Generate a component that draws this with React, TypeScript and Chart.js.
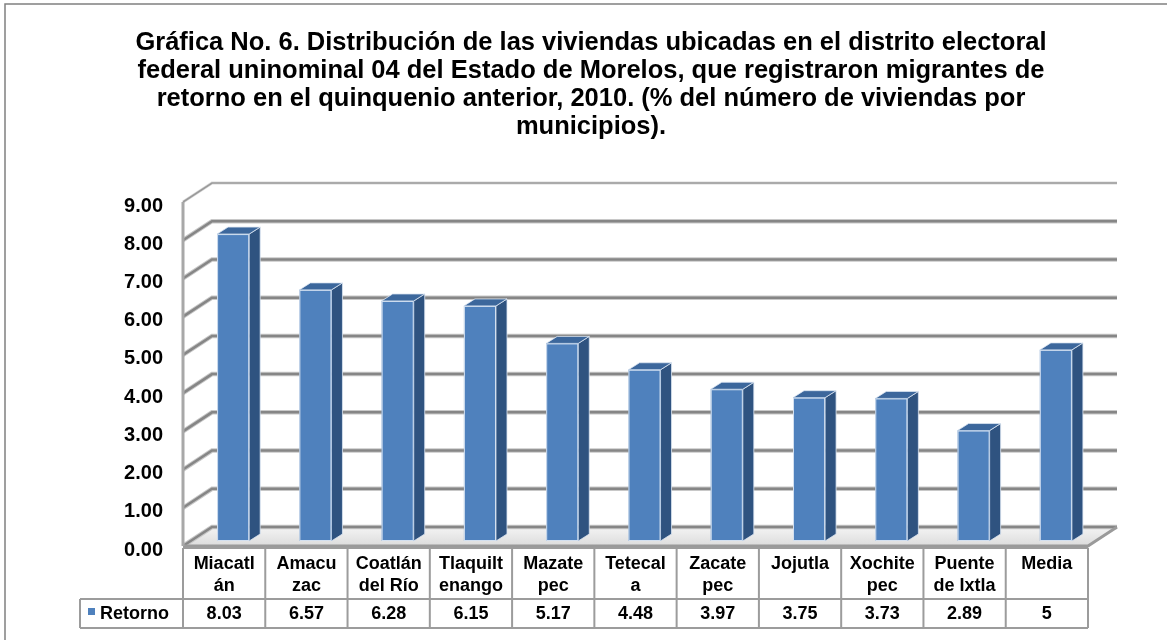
import React, { useEffect, useRef } from "react";
import { Chart, registerables } from "chart.js";

Chart.register(...registerables);

const W = 1167;
const H = 640;
const FONT = "'Liberation Sans', Arial, Helvetica, sans-serif";

const titleLines = [
  "Gráfica No. 6. Distribución de las viviendas ubicadas en el distrito electoral",
  "federal uninominal 04 del Estado de Morelos, que registraron migrantes de",
  "retorno en el quinquenio anterior, 2010. (% del número de viviendas por",
  "municipios).",
];

const categories = [
  "Miacatlán",
  "Amacuzac",
  "Coatlán del Río",
  "Tlaquiltenango",
  "Mazatepec",
  "Tetecala",
  "Zacatepec",
  "Jojutla",
  "Xochitepec",
  "Puente de Ixtla",
  "Media",
];

const headerLines = [
  ["Miacatl", "án"],
  ["Amacu", "zac"],
  ["Coatlán", "del Río"],
  ["Tlaquilt", "enango"],
  ["Mazate", "pec"],
  ["Tetecal", "a"],
  ["Zacate", "pec"],
  ["Jojutla"],
  ["Xochite", "pec"],
  ["Puente", "de Ixtla"],
  ["Media"],
];

const seriesName = "Retorno";
const retorno = [8.03, 6.57, 6.28, 6.15, 5.17, 4.48, 3.97, 3.75, 3.73, 2.89, 5];
const retornoLabels = ["8.03", "6.57", "6.28", "6.15", "5.17", "4.48", "3.97", "3.75", "3.73", "2.89", "5"];

const yTickValues = [0, 1, 2, 3, 4, 5, 6, 7, 8, 9];
const yTickLabels = ["0.00", "1.00", "2.00", "3.00", "4.00", "5.00", "6.00", "7.00", "8.00", "9.00"];

// 3D geometry
const WALL_DX = 29;
const WALL_DY = -19;
const BAR_OFF_X = 9;
const BAR_OFF_Y = -5;
const BAR_DX = 11;
const BAR_DY = -7;

const BLUE = "#4f81bd";
const BLUE_SIDE = "#2f5380";
const BLUE_TOP = "#3c679c";
const GRID = "#868686";

function poly(ctx: CanvasRenderingContext2D, pts: number[][]) {
  ctx.beginPath();
  ctx.moveTo(pts[0][0], pts[0][1]);
  for (let i = 1; i < pts.length; i++) ctx.lineTo(pts[i][0], pts[i][1]);
  ctx.closePath();
}

const backgroundPlugin = {
  id: "bg3d",
  beforeDatasetsDraw(chart: any) {
    const ctx: CanvasRenderingContext2D = chart.ctx;
    const { left, right } = chart.chartArea;
    const ys = chart.scales.y;
    ctx.save();

    // outer frame
    ctx.strokeStyle = "#808080";
    ctx.lineWidth = 1.5;
    ctx.strokeRect(5, 4, W + 20, H + 20);

    // title
    ctx.fillStyle = "#000";
    ctx.font = `bold 25.5px ${FONT}`;
    ctx.textAlign = "center";
    ctx.textBaseline = "alphabetic";
    titleLines.forEach((t, i) => ctx.fillText(t, 591, 50 + i * 28));

    const y0 = ys.getPixelForValue(0);
    const yTop = ys.getPixelForValue(9);

    // floor
    const floorPts = [
      [left, y0],
      [right, y0],
      [right + WALL_DX, y0 + WALL_DY],
      [left + WALL_DX, y0 + WALL_DY],
    ];
    const g = ctx.createLinearGradient(0, y0 + WALL_DY, 0, y0);
    g.addColorStop(0, "#f4f4f4");
    g.addColorStop(1, "#dcdcdc");
    poly(ctx, floorPts);
    ctx.fillStyle = g;
    ctx.fill();

    // gridlines (side wall diagonal + back wall horizontal)
    yTickValues.forEach((v) => {
      const yf = ys.getPixelForValue(v);
      const yb = yf + WALL_DY;
      const isTop = v === 9;
      const draw = (w: number, c: string) => {
        ctx.beginPath();
        ctx.moveTo(left, yf);
        ctx.lineTo(left + WALL_DX, yb);
        ctx.lineTo(right + WALL_DX, yb);
        ctx.strokeStyle = c;
        ctx.lineWidth = w;
        ctx.stroke();
      };
      if (isTop) {
        draw(3, "#d9d9d9");
        draw(1.5, "#9a9a9a");
      } else {
        draw(4.5, "#c8c8c8");
        draw(2.5, GRID);
      }
    });

    // floor outline (right & front edges)
    ctx.beginPath();
    ctx.moveTo(left, y0);
    ctx.lineTo(right, y0);
    ctx.lineTo(right + WALL_DX, y0 + WALL_DY);
    ctx.strokeStyle = "#9a9a9a";
    ctx.lineWidth = 3;
    ctx.stroke();

    // front vertical axis line
    ctx.beginPath();
    ctx.moveTo(left, yTop);
    ctx.lineTo(left, y0);
    ctx.strokeStyle = "#a8a8a8";
    ctx.lineWidth = 3;
    ctx.stroke();

    // y tick labels
    ctx.fillStyle = "#000";
    ctx.font = `bold 20px ${FONT}`;
    ctx.textAlign = "right";
    ctx.textBaseline = "middle";
    yTickValues.forEach((v, i) => {
      ctx.fillText(yTickLabels[i], 163, ys.getPixelForValue(v) + 4);
    });

    ctx.restore();
  },
  afterDatasetsDraw(chart: any) {
    const ctx: CanvasRenderingContext2D = chart.ctx;
    const { left, right } = chart.chartArea;
    const xs = chart.scales.x;
    const ys = chart.scales.y;
    const meta = chart.getDatasetMeta(0);
    ctx.save();

    // 3D bars
    meta.data.forEach((el: any) => {
      const p = el.getProps(["x", "y", "base", "width"], true);
      const x0 = p.x - p.width / 2 + BAR_OFF_X;
      const x1 = x0 + p.width;
      const yt = p.y + BAR_OFF_Y;
      const yb = p.base + BAR_OFF_Y;
      // side
      poly(ctx, [
        [x1, yt],
        [x1 + BAR_DX, yt + BAR_DY],
        [x1 + BAR_DX, yb + BAR_DY],
        [x1, yb],
      ]);
      ctx.fillStyle = BLUE_SIDE;
      ctx.fill();
      ctx.strokeStyle = "rgba(220,230,242,0.8)";
      ctx.lineWidth = 1;
      ctx.stroke();
      // top
      poly(ctx, [
        [x0, yt],
        [x0 + BAR_DX, yt + BAR_DY],
        [x1 + BAR_DX, yt + BAR_DY],
        [x1, yt],
      ]);
      ctx.fillStyle = BLUE_TOP;
      ctx.fill();
      ctx.stroke();
      // front
      ctx.fillStyle = BLUE;
      ctx.fillRect(x0, yt, p.width, yb - yt);
      ctx.strokeStyle = "rgba(225,234,245,0.9)";
      ctx.strokeRect(x0 + 0.5, yt + 0.5, p.width - 1, yb - yt - 1);
    });

    // data table
    const y0 = ys.getPixelForValue(0);
    const catW = (right - left) / categories.length;
    const tTop = y0 + 2;
    const tMid = tTop + 51;
    const tBot = tMid + 29;
    const legLeft = 80;
    ctx.strokeStyle = "#9c9c9c";
    ctx.lineWidth = 2;
    // horizontal lines
    ctx.beginPath();
    ctx.moveTo(left, tTop);
    ctx.lineTo(right, tTop);
    ctx.moveTo(legLeft, tMid);
    ctx.lineTo(right, tMid);
    ctx.moveTo(legLeft, tBot);
    ctx.lineTo(right, tBot);
    // vertical lines
    ctx.moveTo(legLeft, tMid);
    ctx.lineTo(legLeft, tBot);
    for (let i = 0; i <= categories.length; i++) {
      const xb = i < categories.length ? xs.getPixelForValue(i) - catW / 2 : xs.getPixelForValue(i - 1) + catW / 2;
      ctx.moveTo(xb, tTop);
      ctx.lineTo(xb, tBot);
    }
    ctx.stroke();

    ctx.fillStyle = "#000";
    ctx.font = `bold 18px ${FONT}`;
    ctx.textAlign = "center";
    ctx.textBaseline = "middle";
    categories.forEach((_, i) => {
      const cx = xs.getPixelForValue(i);
      headerLines[i].forEach((ln, j) => ctx.fillText(ln, cx, tTop + 16 + j * 22));
      ctx.fillText(retornoLabels[i], cx, tMid + 15);
    });

    // legend cell
    ctx.fillStyle = BLUE;
    ctx.fillRect(88, tMid + 9, 7, 7);
    ctx.fillStyle = "#000";
    ctx.textAlign = "left";
    ctx.fillText(seriesName, 100, tMid + 15);

    ctx.restore();
  },
};

export default function App() {
  const ref = useRef<HTMLCanvasElement | null>(null);
  useEffect(() => {
    if (!ref.current) return;
    const chart = new Chart(ref.current, {
      type: "bar",
      data: {
        labels: categories,
        datasets: [
          {
            label: seriesName,
            data: retorno,
            backgroundColor: "rgba(0,0,0,0)",
            borderWidth: 0,
            barPercentage: 0.39,
            categoryPercentage: 1,
          },
        ],
      },
      options: {
        responsive: false,
        animation: false,
        devicePixelRatio: 1,
        layout: { padding: { left: 183, right: W - 1088, top: 202, bottom: H - 546 } },
        plugins: { legend: { display: false }, tooltip: { enabled: false }, title: { display: false } },
        scales: {
          x: { display: false, offset: true },
          y: { display: false, min: 0, max: 9, ticks: { stepSize: 1 } },
        },
      },
      plugins: [backgroundPlugin],
    });
    return () => chart.destroy();
  }, []);
  return (
    <div style={{ position: "fixed", left: 0, top: 0, width: W, height: H, background: "#fff" }}>
      <canvas ref={ref} width={W} height={H} style={{ display: "block", width: W, height: H }} />
    </div>
  );
}
